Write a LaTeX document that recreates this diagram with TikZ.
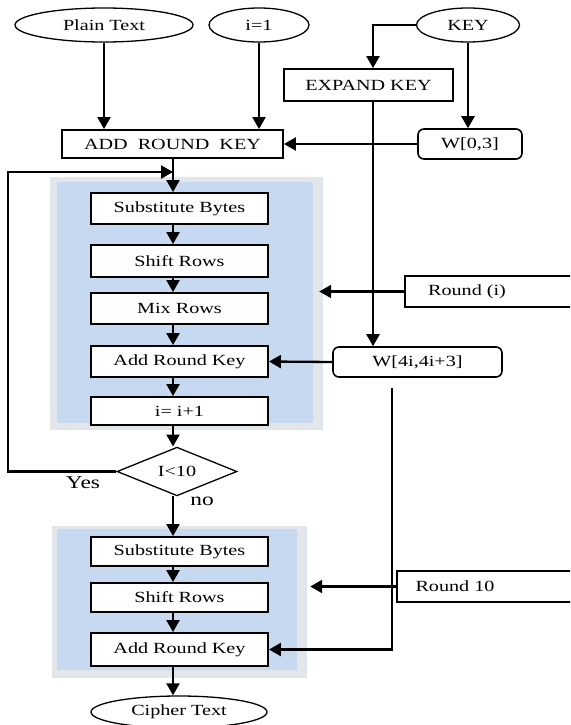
\documentclass[tikz,border=0pt]{standalone}
\usepackage{fontspec}
\setmainfont[FakeStretch=1.3]{Liberation Serif}
\usetikzlibrary{arrows.meta,shapes.geometric,calc}
\definecolor{panelblue}{RGB}{198,217,240}
\definecolor{panelgray}{RGB}{226,229,233}
\begin{document}
\begin{tikzpicture}[x=1pt,y=-1pt,
  txt/.style={font=\fontsize{15.5}{17}\selectfont},
  box/.style={draw,line width=1.9pt,fill=white,inner sep=0pt,txt},
  rbox/.style={box,line width=1.6pt,rounded corners=6pt},
  oval/.style={draw,ellipse,line width=1.3pt,fill=white,inner sep=0pt,txt},
  arr/.style={line width=2.3pt,-{Triangle[length=12pt,width=13pt]}},
  frame/.style={fill=panelgray,draw=none,inner sep=0pt},
  blue/.style={fill=panelblue,draw=none,inner sep=0pt}]
\clip (0,0) rectangle (570,725);
\fill[white] (0,0) rectangle (570,725);
% panels
\node[frame,minimum width=273pt,minimum height=253pt] (p1frame) at (186.5,303.5) {};
\node[blue,minimum width=256pt,minimum height=241pt] (p1blue) at (185,302.5) {};
\node[frame,minimum width=255pt,minimum height=152pt] (p2frame) at (179.5,602) {};
\node[blue,minimum width=240pt,minimum height=141pt] (p2blue) at (177,599.5) {};
% top ovals
\node[oval,minimum width=178pt,minimum height=34pt] (pt) at (104,25) {Plain Text};
\node[oval,minimum width=100pt,minimum height=34pt] (i1) at (259,25) {i=1};
\node[oval,minimum width=103pt,minimum height=34pt] (key) at (468,25) {KEY};
% boxes
\node[box,minimum width=169pt,minimum height=32pt] (expand) at (368.5,85) {EXPAND KEY};
\node[box,minimum width=221pt,minimum height=28pt] (ark) at (172.5,144) {ADD~~ROUND~~KEY};
\node[rbox,minimum width=104pt,minimum height=30pt] (w03) at (470,144) {W[0,3]};
\node[box,minimum width=177pt,minimum height=31pt] (s1) at (179.5,208.5) {Substitute Bytes};
\node[box,minimum width=177pt,minimum height=32pt] (r1) at (179.5,261) {Shift Rows};
\node[box,minimum width=177pt,minimum height=31pt] (m1) at (179.5,308.5) {Mix Rows};
\node[box,minimum width=177pt,minimum height=31pt] (a1) at (179.5,361.5) {Add Round Key};
\node[box,minimum width=177pt,minimum height=28pt] (inc) at (179.5,411) {i= i+1};
\node[draw,diamond,line width=1.3pt,fill=white,inner sep=0pt,minimum width=120pt,minimum height=43pt,txt] (dia) at (177,471.5) {I<10};
\node[box,minimum width=177pt,minimum height=29pt] (s2) at (179.5,551.5) {Substitute Bytes};
\node[box,minimum width=177pt,minimum height=29pt] (r2) at (179.5,597.5) {Shift Rows};
\node[box,minimum width=177pt,minimum height=33pt] (a2) at (179.5,649.5) {Add Round Key};
\node[oval,minimum width=176pt,minimum height=32pt] (ct) at (179,712) {Cipher Text};
% right side
\node[rbox,minimum width=169pt,minimum height=30pt] (w4) at (417.5,362) {W[4i,4i+3]};
\node[box,minimum width=195pt,minimum height=31pt] (roundi) at (502.5,291.5) {};
\node[txt] (roundiT) at (467,291.5) {Round (i)};
\node[box,minimum width=203pt,minimum height=31pt] (round10) at (498.5,586.5) {};
\node[txt] (round10T) at (455,586.5) {Round 10};
% labels
\node[font=\fontsize{18}{20}\selectfont] (yes) at (83,483) {Yes};
\node[font=\fontsize{18}{20}\selectfont] (no) at (202,501) {no};
% helper coordinates
\coordinate (spine) at (173,0);
\coordinate (kx) at (373,0);
\coordinate (wx) at (392,0);
\coordinate (lpL) at (8,172);
\coordinate (lpR) at (173,172);
% connectors
\draw[arr] (pt.south) -- (ark.north -| pt.south);
\draw[arr] (i1.south) -- (ark.north -| i1.south);
\draw[arr] (key.west) -| (expand.north -| kx);
\draw[arr] (key.south) -- (key.south |- w03.north);
\draw[arr] (w03.west) -- (ark.east);
\draw[arr] (ark.south -| spine) -- (s1.north -| spine);
\draw[arr] (dia.west) -| (lpL) -- (lpR);
\draw[arr] (s1.south -| spine) -- (r1.north -| spine);
\draw[arr] (r1.south -| spine) -- (m1.north -| spine);
\draw[arr] (m1.south -| spine) -- (a1.north -| spine);
\draw[arr] (a1.south -| spine) -- (inc.north -| spine);
\draw[arr] (inc.south -| spine) -- (dia.north -| spine);
\draw[arr] (dia.south -| spine) -- (s2.north -| spine);
\draw[arr] (s2.south -| spine) -- (r2.north -| spine);
\draw[arr] (r2.south -| spine) -- (a2.north -| spine);
\draw[arr] (a2.south -| spine) -- (ct.north -| spine);
\draw[arr] (expand.south -| kx) -- (w4.north -| kx);
\draw[arr] (w4.west) -- (a1.east);
\draw[arr] (roundi.west) -- ($(p1frame.east |- roundi.west)+(-4,0)$);
\draw[arr] ($(w4.south -| wx)+(0,10)$) |- (a2.east);
\draw[arr] (round10.west) -- ($(p2frame.east |- round10.west)+(3,0)$);
\end{tikzpicture}
\end{document}
